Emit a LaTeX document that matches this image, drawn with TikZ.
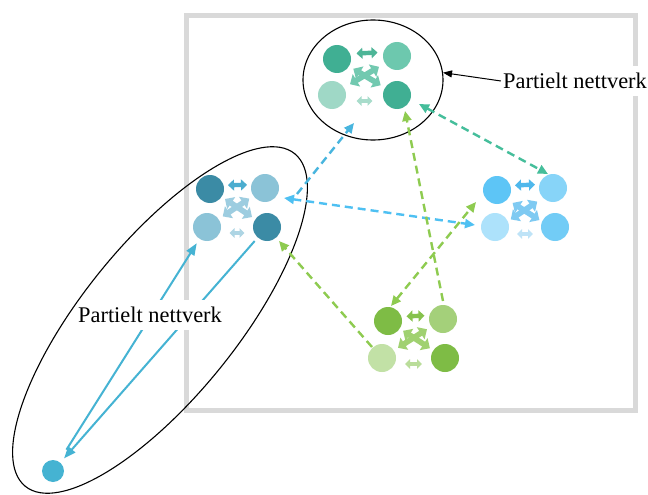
\documentclass[tikz,border=0pt]{standalone}
\usepackage{fontspec}
\setmainfont{Liberation Serif}
\usetikzlibrary{arrows.meta,shapes.geometric}
\definecolor{frame}{HTML}{D9D9D9}
\definecolor{tA}{HTML}{40AF93}
\definecolor{tB}{HTML}{6DC8AE}
\definecolor{tC}{HTML}{9FD8C6}
\definecolor{tTop}{HTML}{4DB597}
\definecolor{tX}{HTML}{72C9B0}
\definecolor{tBot}{HTML}{A8DCCB}
\definecolor{lA}{HTML}{3B8BA5}
\definecolor{lB}{HTML}{8BC3D7}
\definecolor{lTop}{HTML}{4CADCF}
\definecolor{lX}{HTML}{9DCDE0}
\definecolor{lBot}{HTML}{AED5E4}
\definecolor{rA}{HTML}{5DC5F6}
\definecolor{rB}{HTML}{87D4F8}
\definecolor{rC}{HTML}{ADE2FB}
\definecolor{rD}{HTML}{72CCF6}
\definecolor{rTop}{HTML}{4FB8EC}
\definecolor{rX}{HTML}{7FCAF2}
\definecolor{rBot}{HTML}{BEE3F7}
\definecolor{gA}{HTML}{7EBC45}
\definecolor{gB}{HTML}{A4D07A}
\definecolor{gC}{HTML}{C2E1A6}
\definecolor{gTop}{HTML}{86C24D}
\definecolor{gX}{HTML}{A0D170}
\definecolor{gBot}{HTML}{BADD9A}
\definecolor{sN}{HTML}{45B3D2}
\definecolor{lineBlue}{HTML}{45B3D3}
\definecolor{dBlueA}{HTML}{48B5DE}
\definecolor{dBlueB}{HTML}{4EC0F2}
\definecolor{dTeal}{HTML}{45BE9B}
\definecolor{dGreen}{HTML}{8ECB50}
\begin{document}
\begin{tikzpicture}[x=1pt,y=-1pt,
  circ/.style={circle,inner sep=0pt,minimum size=28pt,fill=#1},
  topar/.style={draw=#1,line width=4.4pt,{Triangle[length=6pt,width=11pt]}-{Triangle[length=6pt,width=11pt]}},
  botar/.style={draw=#1,line width=3.6pt,{Triangle[length=5pt,width=9.5pt]}-{Triangle[length=5pt,width=9.5pt]}},
  crossar/.style={draw=#1,line width=5.6pt,{Triangle[length=7.5pt,width=14pt]}-{Triangle[length=7.5pt,width=14pt]}},
  dasharr/.style={draw=#1,line width=2.4pt,dash pattern=on 8pt off 5pt,-{Triangle[length=10pt,width=9pt]}},
  dashboth/.style={draw=#1,line width=2.4pt,dash pattern=on 8pt off 5pt,{Triangle[length=10pt,width=9pt]}-{Triangle[length=10pt,width=9pt]}},
  solidar/.style={draw=lineBlue,line width=2pt,-{Triangle[length=12pt,width=9pt]}},
  lab/.style={fill=white,inner xsep=2pt,inner ysep=7pt,font=\fontsize{22.4}{26}\selectfont},
  ring/.style={draw=black,line width=1.1pt,ellipse,inner sep=0pt}
]
\useasboundingbox (0,0) rectangle (648,495);
\fill[white] (0,0) rectangle (648,495);

% frame
\draw[frame,line width=5pt] (186,15.5) rectangle (635.5,410);

% nodes of the clusters
\node[circ=tA] (T1) at (337,59) {};
\node[circ=tB] (T2) at (397,56) {};
\node[circ=tC] (T3) at (332,95) {};
\node[circ=tA] (T4) at (397,95) {};

\node[circ=lA] (L1) at (210,189) {};
\node[circ=lB] (L2) at (265,188) {};
\node[circ=lB] (L3) at (207,227) {};
\node[circ=lA] (L4) at (267,227) {};

\node[circ=rA] (R1) at (497,190) {};
\node[circ=rB] (R2) at (553,188) {};
\node[circ=rC] (R3) at (495,227) {};
\node[circ=rD] (R4) at (555,227) {};

\node[circ=gA] (G1) at (388,321) {};
\node[circ=gB] (G2) at (443,319) {};
\node[circ=gC] (G3) at (382,358) {};
\node[circ=gA] (G4) at (445,358) {};

\node[circle,inner sep=0pt,minimum size=22pt,fill=sN] (S) at (53,471) {};

% solid blue arrows
\draw[solidar,shorten <=14pt,shorten >=5pt] (S) -- (L3);
\draw[solidar,shorten <=4.5pt,shorten >=5.5pt] (L4) -- (S);

% labels
\node[lab] (labL) at (150,315) {Partielt nettverk};
\node[lab] (labT) at (575,81) {Partielt nettverk};

% rings
\node[ring,minimum width=140pt,minimum height=120pt] (ellT) at (373,80) {};
\node[ring,rotate=51,minimum width=428pt,minimum height=154pt] (ellL) at (160,320) {};
\draw[black,line width=1pt,-{Triangle[length=9pt,width=7pt]}] (labT.west) -- (ellT.6);

% dashed connectors
\coordinate (d1a) at (297,194); \coordinate (d1b) at (354,123);
\coordinate (d2a) at (284,198); \coordinate (d2b) at (475,225);
\coordinate (d3a) at (419,104); \coordinate (d3b) at (548,174);
\coordinate (d4a) at (443,301); \coordinate (d4b) at (405,111);
\coordinate (d5a) at (391,306); \coordinate (d5b) at (476,202);
\coordinate (d6a) at (372,347); \coordinate (d6b) at (279,241);
\draw[dasharr=dBlueA] (d1a) -- (d1b);
\draw[dashboth=dBlueB] (d2a) -- (d2b);
\draw[dashboth=dTeal] (d3a) -- (d3b);
\draw[dasharr=dGreen] (d4a) -- (d4b);
\draw[dashboth=dGreen] (d5a) -- (d5b);
\draw[dasharr=dGreen] (d6a) -- (d6b);

% arrows inside the clusters
\draw[topar=tTop,shorten <=19.5pt,shorten >=19.5pt] ([yshift=4.5pt]T1.center) -- ([yshift=4.5pt]T2.center);
\draw[botar=tBot,shorten <=24.5pt,shorten >=24.5pt] ([yshift=-6pt]T3.center) -- ([yshift=-6pt]T4.center);
\draw[crossar=tX,shorten <=19pt,shorten >=19pt] (T1.center) -- (T4.center);
\draw[crossar=tX,shorten <=21pt,shorten >=21pt] (T2.center) -- (T3.center);

\draw[topar=lTop,shorten <=18pt,shorten >=18pt] ([yshift=3.5pt]L1.center) -- ([yshift=3.5pt]L2.center);
\draw[botar=lBot,shorten <=22.5pt,shorten >=22.5pt] ([yshift=-6pt]L3.center) -- ([yshift=-6pt]L4.center);
\draw[crossar=lX,shorten <=18pt,shorten >=18pt] (L1.center) -- (L4.center);
\draw[crossar=lX,shorten <=19pt,shorten >=19pt] (L2.center) -- (L3.center);

\draw[topar=rTop,shorten <=18pt,shorten >=18pt] ([yshift=4pt]R1.center) -- ([yshift=4pt]R2.center);
\draw[botar=rBot,shorten <=22pt,shorten >=22pt] ([yshift=-7pt]R3.center) -- ([yshift=-7pt]R4.center);
\draw[crossar=rX,shorten <=18.5pt,shorten >=18.5pt] ([yshift=-3pt]R1.center) -- ([yshift=-3pt]R4.center);
\draw[crossar=rX,shorten <=19pt,shorten >=19pt] ([yshift=-3pt]R2.center) -- ([yshift=-3pt]R3.center);

\draw[topar=gTop,shorten <=18.5pt,shorten >=18.5pt] ([yshift=4pt]G1.center) -- ([yshift=4pt]G2.center);
\draw[botar=gBot,shorten <=23pt,shorten >=23pt] ([yshift=-6pt]G3.center) -- ([yshift=-6pt]G4.center);
\draw[crossar=gX,shorten <=18pt,shorten >=18pt] (G1.center) -- (G4.center);
\draw[crossar=gX,shorten <=19pt,shorten >=19pt] (G2.center) -- (G3.center);
\end{tikzpicture}
\end{document}
